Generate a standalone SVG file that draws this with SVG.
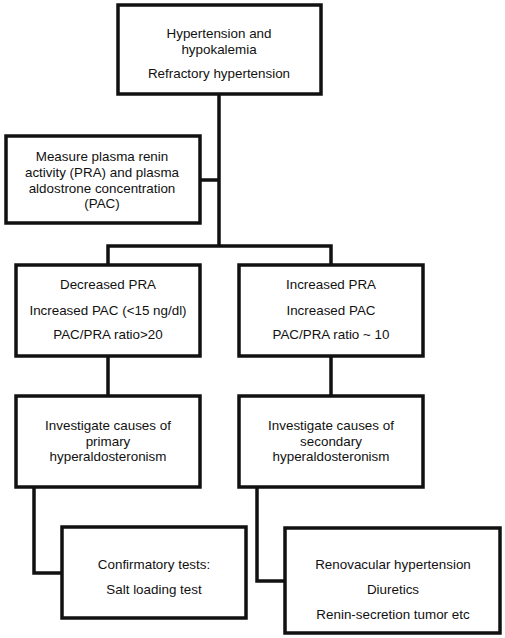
<svg xmlns="http://www.w3.org/2000/svg" width="505" height="638" viewBox="0 0 505 638">
<style>
.box{fill:#fff;stroke:#111;stroke-width:3.5}
.ln{fill:none;stroke:#111;stroke-width:3.5;stroke-linejoin:miter}
text{font-family:"Liberation Sans",Arial,sans-serif;font-size:13.4px;fill:#111;text-anchor:middle}
</style>
<rect width="505" height="638" fill="#fff"/>
<g id="connectors">
<path class="ln" d="M219 95 V246 M102 180 H219 M108 264 V246 H331 V264 M108 357 V395 M331 357 V395 M34 488 V573 H62 M257 488 V581 H285"/>
</g>
<g id="n1">
<rect class="box" x="118" y="5" width="203" height="89"/>
<text x="219" y="38">Hypertension and</text>
<text x="219" y="54">hypokalemia</text>
<text x="219" y="78">Refractory hypertension</text>
</g>
<g id="n2">
<rect class="box" x="6" y="136" width="194" height="87"/>
<text x="102" y="161">Measure plasma renin</text>
<text x="102" y="177">activity (PRA) and plasma</text>
<text x="102" y="193">aldostrone concentration</text>
<text x="102" y="208">(PAC)</text>
</g>
<g id="n3">
<rect class="box" x="16" y="265" width="184" height="91"/>
<text x="108" y="289">Decreased PRA</text>
<text x="108" y="315">Increased PAC (&lt;15 ng/dl)</text>
<text x="108" y="339">PAC/PRA ratio&gt;20</text>
</g>
<g id="n4">
<rect class="box" x="239" y="265" width="184" height="91"/>
<text x="331" y="289">Increased PRA</text>
<text x="331" y="315">Increased PAC</text>
<text x="331" y="339">PAC/PRA ratio ~ 10</text>
</g>
<g id="n5">
<rect class="box" x="16" y="396" width="184" height="91"/>
<text x="108" y="430">Investigate causes of</text>
<text x="108" y="446">primary</text>
<text x="108" y="461">hyperaldosteronism</text>
</g>
<g id="n6">
<rect class="box" x="239" y="396" width="184" height="91"/>
<text x="331" y="430">Investigate causes of</text>
<text x="331" y="446">secondary</text>
<text x="331" y="461">hyperaldosteronism</text>
</g>
<g id="n7">
<rect class="box" x="62" y="527" width="184" height="91"/>
<text x="154" y="569">Confirmatory tests:</text>
<text x="154" y="594">Salt loading test</text>
</g>
<g id="n8">
<rect class="box" x="285" y="528" width="215" height="105"/>
<text x="393" y="569">Renovacular hypertension</text>
<text x="393" y="594">Diuretics</text>
<text x="393" y="619">Renin-secretion tumor etc</text>
</g>
</svg>
